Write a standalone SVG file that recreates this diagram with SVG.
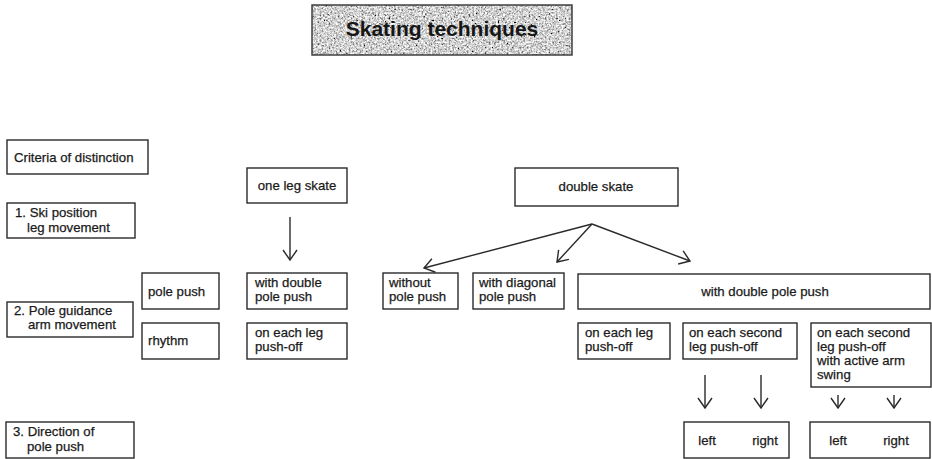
<svg xmlns="http://www.w3.org/2000/svg" width="932" height="459" viewBox="0 0 932 459">
  <defs>
    <style>
      .box { fill: #ffffff; stroke: #2a2a2a; stroke-width: 1.4; }
      .lbl { font-family: "Liberation Sans", Arial, sans-serif; font-size: 13.2px; fill: #1a1a1a; stroke: #1a1a1a; stroke-width: 0.25; }
      .mid { text-anchor: middle; }
      .title { font-family: "Liberation Sans", Arial, sans-serif; font-size: 21px; font-weight: bold; fill: #161616; text-anchor: middle; }
      .conn line { stroke: #2a2a2a; stroke-width: 1.4; fill: none; marker-end: url(#head); }
    </style>
    <marker id="head" markerUnits="userSpaceOnUse" markerWidth="20" markerHeight="20" refX="0" refY="0" viewBox="-12 -10 14 20" orient="auto">
      <path d="M-10,-7 L0,0 L-10,7" fill="none" stroke="#2a2a2a" stroke-width="1.4"/>
    </marker>
    <filter id="grain" x="0" y="0" width="100%" height="100%">
      <feTurbulence type="fractalNoise" baseFrequency="0.55" numOctaves="3" seed="7"/>
      <feColorMatrix type="matrix" values="0.33 0.33 0.33 0 0  0.33 0.33 0.33 0 0  0.33 0.33 0.33 0 0  0 0 0 0 1"/>
      <feComponentTransfer>
        <feFuncR type="linear" slope="3.2" intercept="-0.95"/>
        <feFuncG type="linear" slope="3.2" intercept="-0.95"/>
        <feFuncB type="linear" slope="3.2" intercept="-0.95"/>
      </feComponentTransfer>
      <feComposite operator="in" in2="SourceGraphic"/>
    </filter>
  </defs>

  <!-- title banner -->
  <g id="title">
    <rect x="312" y="5" width="260" height="50" fill="#999" filter="url(#grain)"/>
    <rect x="312" y="5" width="260" height="50" fill="none" stroke="#333" stroke-width="1.4"/>
    <text class="title" x="442" y="36">Skating techniques</text>
  </g>

  <!-- criteria column -->
  <g id="criteria">
    <rect class="box" x="7" y="140" width="141" height="34"/>
    <text class="lbl" x="14" y="162">Criteria of distinction</text>
  </g>
  <g id="crit-ski">
    <rect class="box" x="7" y="203" width="128" height="35"/>
    <text class="lbl" x="15" y="217">1. Ski position</text>
    <text class="lbl" x="27" y="232">leg movement</text>
  </g>
  <g id="crit-pole">
    <rect class="box" x="7" y="302" width="126" height="35"/>
    <text class="lbl" x="14" y="315">2. Pole guidance</text>
    <text class="lbl" x="28" y="329">arm movement</text>
  </g>
  <g id="crit-direction">
    <rect class="box" x="6" y="422" width="128" height="36"/>
    <text class="lbl" x="13" y="436">3. Direction of</text>
    <text class="lbl" x="27" y="451">pole push</text>
  </g>

  <!-- sub-criteria -->
  <g id="pole-push">
    <rect class="box" x="142" y="273" width="77" height="36"/>
    <text class="lbl" x="148" y="296">pole push</text>
  </g>
  <g id="rhythm">
    <rect class="box" x="142" y="323" width="77" height="36"/>
    <text class="lbl" x="148" y="345">rhythm</text>
  </g>

  <!-- one leg skate branch -->
  <g id="one-leg-skate">
    <rect class="box" x="247" y="168" width="100" height="35"/>
    <text class="lbl mid" x="297" y="190">one leg skate</text>
  </g>
  <g id="ols-double-pole">
    <rect class="box" x="247" y="273" width="100" height="36"/>
    <text class="lbl" x="255" y="287">with double</text>
    <text class="lbl" x="255" y="301">pole push</text>
  </g>
  <g id="ols-each-leg">
    <rect class="box" x="247" y="323" width="100" height="36"/>
    <text class="lbl" x="255" y="337">on each leg</text>
    <text class="lbl" x="255" y="351">push-off</text>
  </g>

  <!-- double skate branch -->
  <g id="double-skate">
    <rect class="box" x="515" y="168" width="163" height="38"/>
    <text class="lbl mid" x="596" y="191">double skate</text>
  </g>
  <g id="ds-without">
    <rect class="box" x="383" y="273" width="75" height="36"/>
    <text class="lbl" x="389" y="287">without</text>
    <text class="lbl" x="389" y="301">pole push</text>
  </g>
  <g id="ds-diagonal">
    <rect class="box" x="473" y="273" width="91" height="36"/>
    <text class="lbl" x="479" y="287">with diagonal</text>
    <text class="lbl" x="479" y="301">pole push</text>
  </g>
  <g id="ds-double-pole">
    <rect class="box" x="578" y="274" width="352" height="35"/>
    <text class="lbl mid" x="765" y="296">with double pole push</text>
  </g>
  <g id="ds-each-leg">
    <rect class="box" x="578" y="323" width="92" height="36"/>
    <text class="lbl" x="585" y="337">on each leg</text>
    <text class="lbl" x="585" y="351">push-off</text>
  </g>
  <g id="ds-each-second">
    <rect class="box" x="683" y="323" width="114" height="36"/>
    <text class="lbl" x="689" y="337">on each second</text>
    <text class="lbl" x="689" y="351">leg push-off</text>
  </g>
  <g id="ds-each-second-swing">
    <rect class="box" x="811" y="323" width="120" height="64"/>
    <text class="lbl" x="817" y="337">on each second</text>
    <text class="lbl" x="817" y="351">leg push-off</text>
    <text class="lbl" x="817" y="365">with active arm</text>
    <text class="lbl" x="817" y="379">swing</text>
  </g>

  <!-- direction of pole push -->
  <g id="dir-a">
    <rect class="box" x="684" y="422" width="105" height="36"/>
    <text class="lbl mid" x="707" y="445">left</text>
    <text class="lbl mid" x="765" y="445">right</text>
  </g>
  <g id="dir-b">
    <rect class="box" x="810" y="422" width="120" height="36"/>
    <text class="lbl mid" x="838" y="445">left</text>
    <text class="lbl mid" x="896" y="445">right</text>
  </g>

  <!-- connectors -->
  <g id="connectors" class="conn">
    <line x1="290" y1="217" x2="290" y2="260"/>
    <line x1="592" y1="224" x2="424" y2="268"/>
    <line x1="592" y1="224" x2="557" y2="262"/>
    <line x1="592" y1="224" x2="690" y2="261"/>
    <line x1="705" y1="375" x2="705" y2="408"/>
    <line x1="761" y1="375" x2="761" y2="408"/>
    <line x1="838" y1="395" x2="838" y2="408"/>
    <line x1="894" y1="395" x2="894" y2="408"/>
  </g>
</svg>
